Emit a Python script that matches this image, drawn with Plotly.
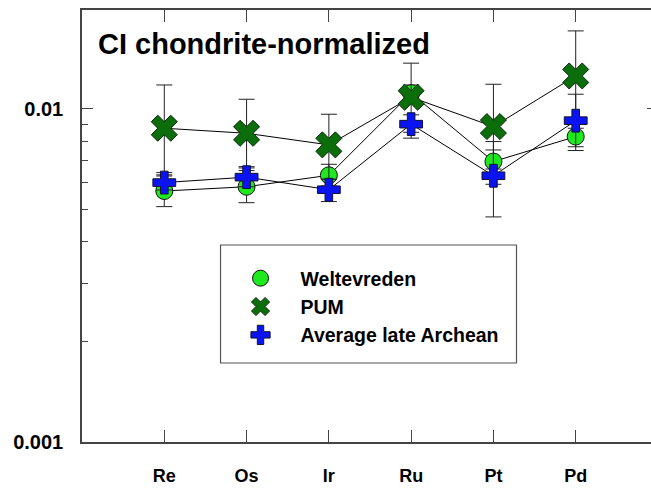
import plotly.graph_objects as go

elements = ["Re", "Os", "Ir", "Ru", "Pt", "Pd"]

welt = [0.00567, 0.00584, 0.00632, 0.01115, 0.00695, 0.00826]
welt_hi = [0.00629, 0.00653, 0.00682, 0.01180, 0.00798, 0.00875]
welt_lo = [0.00509, 0.00523, 0.00587, 0.01057, 0.00594, 0.00750]

pum = [0.00875, 0.00845, 0.00780, 0.01084, 0.00885, 0.01256]
pum_hi = [0.01180, 0.01069, 0.00964, 0.01372, 0.01186, 0.01715]
pum_lo = [0.00644, 0.00671, 0.00615, 0.00851, 0.00660, 0.00920]

arch = [0.00601, 0.00624, 0.00572, 0.00900, 0.00630, 0.00922]
arch_hi = [0.00634, 0.00665, 0.00615, 0.00960, 0.00753, 0.01107]
arch_lo = [0.00571, 0.00584, 0.00527, 0.00817, 0.00474, 0.00770]

series_names = ["Weltevreden", "PUM", "Average late Archean"]

y_ticks = [0.001, 0.01]
y_ticktext = ["0.001", "0.01"]
y_minor = [0.002, 0.003, 0.004, 0.005, 0.006, 0.007, 0.008, 0.009]

FONT = "Liberation Sans, Arial, sans-serif"
AX = "#444444"

W = 660          # plot frame continues past the 651px window on the right
PX0, PX1 = 82, W
PY0, PY1 = 10, 442
PW, PH = PX1 - PX0, PY1 - PY0


def err(v, hi, lo):
    return dict(type="data", symmetric=False,
                array=[h - x for h, x in zip(hi, v)],
                arrayminus=[x - l for l, x in zip(lo, v)],
                color="#222222", thickness=1, width=8)


fig = go.Figure()

# connecting lines (drawn beneath markers)
for vals in (welt, pum, arch):
    fig.add_trace(go.Scatter(x=elements, y=vals, mode="lines", showlegend=False,
                             hoverinfo="skip", line=dict(color="black", width=1)))

fig.add_trace(go.Scatter(
    x=elements, y=welt, name="<b>%s</b>" % series_names[0], mode="markers",
    marker=dict(symbol="circle", size=17, color="#1ee81e",
                line=dict(color="#111111", width=1)),
    error_y=err(welt, welt_hi, welt_lo)))
fig.add_trace(go.Scatter(
    x=elements, y=pum, name="<b>%s</b>" % series_names[1], mode="markers",
    marker=dict(symbol="x", size=23, color="#0b6e0b",
                line=dict(color="#0a2a0a", width=1)),
    error_y=err(pum, pum_hi, pum_lo)))
fig.add_trace(go.Scatter(
    x=elements, y=arch, name="<b>%s</b>" % series_names[2], mode="markers",
    marker=dict(symbol="cross", size=19, color="#0a14f0",
                line=dict(color="#111133", width=1)),
    error_y=err(arch, arch_hi, arch_lo)))

# legend frame
fig.add_shape(type="rect", xref="paper", yref="paper",
              x0=(221 - PX0) / PW, x1=(518 - PX0) / PW,
              y0=1 - (363 - PY0) / PH, y1=1 - (245 - PY0) / PH,
              line=dict(color="#555555", width=1.2), fillcolor="white", layer="below")

fig.add_annotation(text="<b>CI chondrite-normalized</b>", xref="paper", yref="paper",
                   x=(96 - PX0) / PW, y=1 - (44 - PY0) / PH, xanchor="left", yanchor="middle",
                   showarrow=False, font=dict(family=FONT, size=29, color="black"))

fig.update_layout(
    width=W, height=490,
    margin=dict(l=PX0, r=0, t=PY0, b=490 - PY1),
    paper_bgcolor="white", plot_bgcolor="white",
    font=dict(family=FONT, color="black"),
    showlegend=True,
    legend=dict(x=(221 - PX0) / PW, y=1 - (259 - PY0) / PH, xanchor="left", yanchor="top",
                bgcolor="rgba(0,0,0,0)", borderwidth=0, itemwidth=70,
                font=dict(family=FONT, size=19.5, color="black"),
                tracegroupgap=0),
    xaxis=dict(range=[-1, 6], showgrid=False, zeroline=False,
               showline=True, linecolor=AX, linewidth=1.5, mirror="ticks",
               ticks="inside", ticklen=12, tickcolor=AX, tickwidth=1.2,
               tickfont=dict(family=FONT, size=18, color="black"),
               ticklabelstandoff=17, tickprefix="<b>", ticksuffix="</b>"),
    yaxis=dict(type="log", range=[-3, -1.703], showgrid=False, zeroline=False,
               showline=True, linecolor=AX, linewidth=1.5, mirror="ticks",
               ticks="inside", ticklen=11, tickcolor=AX, tickwidth=1.2,
               tickmode="array", tickvals=y_ticks, ticktext=["<b>%s</b>" % t for t in y_ticktext],
               tickfont=dict(family=FONT, size=20, color="black"),
               ticklabelstandoff=13,
               minor=dict(tickmode="array", tickvals=y_minor, ticks="inside",
                          ticklen=6, tickcolor=AX, tickwidth=1.2)),
)

fig.write_html("out.html", config={"displayModeBar": False},
               post_script="document.body.style.margin='0';document.body.style.overflow='hidden';")
